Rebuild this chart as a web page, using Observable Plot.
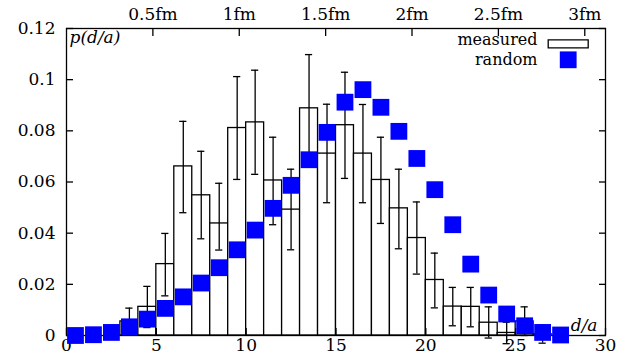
<!DOCTYPE html>
<html><head><meta charset="utf-8">
<script src="https://cdn.jsdelivr.net/npm/d3@7"></script>
<script src="https://cdn.jsdelivr.net/npm/@observablehq/plot@0.6"></script>
<style>
html,body{margin:0;padding:0;background:#fff}
</style>
</head><body><div id="chart"></div>
<script>
// bins of width 1 in d/a
const binStart = [0,1,2,3,4,5,6,7,8,9,10,11,12,13,14,15,16,17,18,19,20,21,22,23,24,25,26,27];
// measured histogram (bins 0..26)
const measured = [0,0,0,0.0055,0.0112,0.0279,0.0661,0.0548,0.0438,0.0811,0.0833,0.0606,0.0492,0.0888,0.0711,0.0822,0.0711,0.0608,0.0497,0.0381,0.0217,0.0113,0.0112,0.0050,0.0010,0.0055,0.0005];
const errLow  = [null,null,null,0.0003,0.0031,0.0155,0.0480,0.0378,0.0334,0.0610,0.0630,0.0433,0.0335,0.0680,0.0519,0.0614,0.0519,0.0438,0.0339,0.0240,0.0108,0.0038,0.0034,-0.0010,-0.0032,0.0000,-0.0030];
const errHigh = [null,null,null,0.0107,0.0192,0.0399,0.0837,0.0720,0.0595,0.1012,0.1037,0.0775,0.0650,0.1098,0.0904,0.1029,0.0903,0.0775,0.0650,0.0522,0.0322,0.0188,0.0188,0.0112,0.0052,0.0112,0.0040];
// random distribution (bins 0..27)
const random = [0.0000,0.0003,0.0012,0.0034,0.0064,0.0106,0.0151,0.0205,0.0265,0.0335,0.0412,0.0497,0.0587,0.0687,0.0794,0.0912,0.0961,0.0892,0.0798,0.0692,0.0570,0.0433,0.0279,0.0158,0.0084,0.0038,0.0012,0.0002];
// axes
const xTicks = [0,5,10,15,20,25,30];
const yTicks = [0,0.02,0.04,0.06,0.08,0.1,0.12];
const fmTicks = [0.5,1,1.5,2,2.5,3];
const latticeSpacingFm = 0.104;
const seriesNames = ["measured","random"];

const bars = measured.map((v,i)=>({x1: binStart[i], x2: binStart[i]+1, y: v}));
const errs = measured.map((v,i)=>({x: binStart[i]+0.5, lo: errLow[i], hi: errHigh[i]})).filter(d=>d.lo!=null);
const rnd = random.map((v,i)=>({x: binStart[i]+0.5, y: v}));
const capHalf = 0.2;
const sw = 1.3;
const FONT = '"DejaVu Serif", "Liberation Serif", serif';
const FS = 17;
const LFS = 16;

const rectSymbol = {draw(ctx){ ctx.moveTo(-20,-4); ctx.lineTo(20,-4); ctx.lineTo(20,4); ctx.lineTo(-20,4); ctx.closePath(); }};
const squareSymbol = {draw(ctx){ ctx.rect(-8.4,-8.4,16.8,16.8); }};

const plot = Plot.plot({
  width: 639, height: 364,
  marginLeft: 66, marginRight: 34, marginTop: 28, marginBottom: 29,
  x: {domain:[0,30]},
  y: {domain:[0,0.12]},
  style: {fontFamily: FONT, fontSize: FS + "px", background:"white", color:"black"},
  marks: [
    Plot.rect(bars, {x1:"x1", x2:"x2", y1:0, y2:"y", fill:"white", stroke:"black", strokeWidth:sw}),
    Plot.ruleX(errs, {x:"x", y1:"lo", y2:"hi", stroke:"black", strokeWidth:sw}),
    Plot.ruleY(errs, {y:"lo", x1:d=>d.x-capHalf, x2:d=>d.x+capHalf, stroke:"black", strokeWidth:sw}),
    Plot.ruleY(errs, {y:"hi", x1:d=>d.x-capHalf, x2:d=>d.x+capHalf, stroke:"black", strokeWidth:sw}),
    Plot.frame({stroke:"black", strokeWidth:sw}),
    Plot.axisY({ticks:yTicks, tickSize:-7, tickPadding:18, strokeWidth:sw, tickFormat:d=>String(+d.toFixed(2)), label:null, fontFamily:FONT, fontSize:FS}),
    Plot.axisY({anchor:"right", ticks:yTicks, tickSize:-7, strokeWidth:sw, tickFormat:()=>"", label:null}),
    Plot.axisX({ticks:xTicks, tickSize:-7, tickPadding:10, strokeWidth:sw, tickFormat:d=>String(d), label:null, fontFamily:FONT, fontSize:FS}),
    Plot.axisX({anchor:"top", ticks:fmTicks.map(f=>f/latticeSpacingFm), tickSize:-7, tickPadding:16, strokeWidth:sw,
      tickFormat:d=>String(+(d*latticeSpacingFm).toFixed(1))+"fm", label:null, fontFamily:FONT, fontSize:FS}),
    Plot.dot(rnd, {x:"x", y:"y", symbol:squareSymbol, fill:"#0000ff", stroke:"none"}),
    Plot.text(["p(d/a)"], {frameAnchor:"top-left", dx:3, dy:2, textAnchor:"start", lineAnchor:"top", fontStyle:"italic", fontSize:FS, fontFamily:FONT}),
    Plot.text(["d/a"], {frameAnchor:"bottom-right", dx:-8, dy:-5, textAnchor:"end", lineAnchor:"bottom", fontStyle:"italic", fontSize:FS, fontFamily:FONT}),
    Plot.text([seriesNames[0]], {frameAnchor:"top-right", dx:-68, dy:10.9, textAnchor:"end", lineAnchor:"middle", fontSize:LFS, fontFamily:FONT}),
    Plot.text([seriesNames[1]], {frameAnchor:"top-right", dx:-68, dy:30.9, textAnchor:"end", lineAnchor:"middle", fontSize:LFS, fontFamily:FONT}),
    Plot.dot([0], {frameAnchor:"top-right", dx:-37.3, dy:15.3, symbol:rectSymbol, fill:"white", stroke:"black", strokeWidth:sw}),
    Plot.dot([0], {frameAnchor:"top-right", dx:-37.3, dy:31.3, symbol:squareSymbol, fill:"#0000ff", stroke:"none"})
  ]
});
document.getElementById("chart").appendChild(plot);
</script>
</body></html>
